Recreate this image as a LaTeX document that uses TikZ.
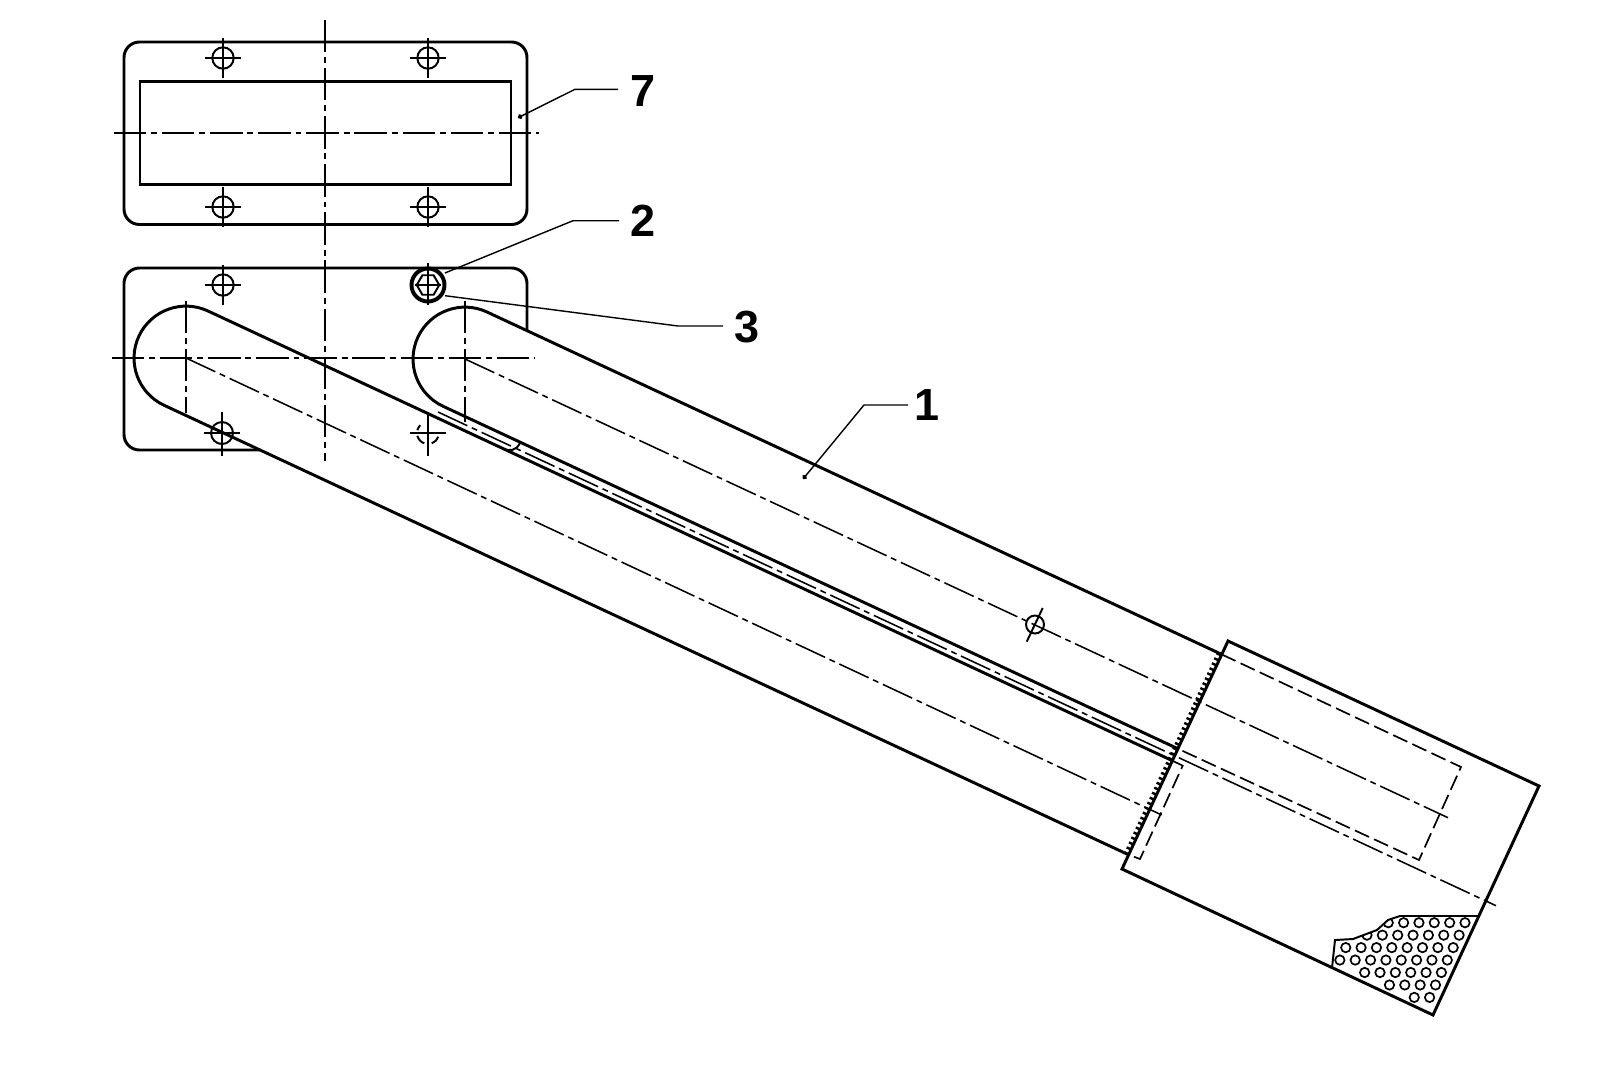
\documentclass[tikz,border=0pt]{standalone}
\usepackage{fontspec}
\setmainfont{Liberation Sans}
\usetikzlibrary{arrows.meta,shapes.geometric}

\begin{document}
\begin{tikzpicture}[
	x=0.025cm, y=-0.025cm,
	outline/.style={line width=2.1pt, line join=miter},
	thinoutline/.style={line width=1.4pt},
	centerline/.style={line width=1.1pt, dash pattern=on 23pt off 3.5pt on 4.2pt off 3.5pt},
	hiddenline/.style={line width=1.2pt, dash pattern=on 11pt off 4pt},
	leader/.style={line width=1pt, line join=round},
	numlabel/.style={font=\fontsize{32}{32}\selectfont\bfseries, inner sep=0pt},
	perfhole/.style={line width=1.2pt}
	]
	\useasboundingbox (0,0) rectangle (1600,1067);
	
	% Upper plate
	\draw[outline, rounded corners=11pt] (124,42) rectangle (527,224.5);
	\draw[outline] (140,81.6) rectangle (511,184.5);
	
	% Lower plate
	\draw[outline, rounded corners=11pt] (260,450) -- (124,450) -- (124,268) -- (527,268) -- (527,331);
	
	% Centre lines of the plates
	\draw[centerline] (325,20) -- (325,461);
	\draw[centerline] (114,133) -- (539,133);
	\draw[centerline] (112,358) -- (535,358);
	
	% Bolt holes
	\foreach \bx/\by in {223/58, 428/58, 223/207, 428/207, 223/285} {
		\draw[thinoutline] (\bx,\by) circle[radius=10.7];
		\draw[thinoutline] (\bx-18,\by) -- (\bx+18,\by);
		\draw[thinoutline] (\bx,\by-20) -- (\bx,\by+20);
	}
	\foreach \bx in {222,428} {
		\draw[thinoutline] (\bx-18,433) -- (\bx+18,433);
		\draw[thinoutline] (\bx,412) -- (\bx,456);
	}
	\draw[thinoutline] (222,433) circle[radius=11];
	\draw[thinoutline] (428,433) ++(20:11) arc[start angle=20, end angle=70, radius=11];
	\draw[thinoutline] (428,433) ++(110:11) arc[start angle=110, end angle=165, radius=11];
	\draw[thinoutline] (428,433) ++(195:11) arc[start angle=195, end angle=225, radius=11];
	
	% Bolt with washer
	\draw[line width=2.8pt, fill=white] (428,285) circle[radius=16.5];
	\node[draw, regular polygon, regular polygon sides=6, thinoutline, minimum size=16pt, inner sep=0pt] (washer) at (428,285) {};
	\draw[thinoutline] (428,263) -- (428,305);
	\draw[thinoutline] (415,285) -- (441,285);
	
	% Tubes
	\draw[outline] (1172,760.5) -- (208,311) arc[start angle=-65, end angle=-245, radius=52] -- (1128.7,854.8);
	\draw[outline] (1221.5,654.3) -- (487,312) arc[start angle=-65, end angle=-245, radius=52] -- (1177,748.3);
	
	% Axes of the tubes
	\draw[centerline] (186,301) -- (186,413);
	\draw[centerline] (465,301) -- (465,422);
	\draw[centerline] (186,358) -- (1161.7,815);
	\draw[centerline] (465,359) -- (1448,817.7);
	\draw[centerline] (438,412) -- (1496,905.7);
	
	% Hook between the tubes
	\draw[thinoutline] (520,443) .. controls (516,451) and (510,451) .. (503,449);
	
	% Cross on the axis
	\draw[thinoutline] (1035,624.5) circle[radius=9];
	\draw[thinoutline] (1042.7,608) -- (1026.7,641.7);
	
	% Housing
	\draw[outline] (1228,641) -- (1539,786) -- (1433,1015) -- (1122,869) -- cycle;
	\draw[line width=3.5pt, dash pattern=on 1.7pt off 2.2pt] (1219.2,653.2) -- (1126.4,853.7);
	
	% Hidden parts inside the housing
	\draw[hiddenline] (1221.5,654.3) -- (1461,767) -- (1419,860) -- (1177,748.3);
	\draw[hiddenline] (1172,760.5) -- (1182.7,765.7) -- (1140,859) -- (1128.7,854.8);
	
	% Perforated part
	\draw[thinoutline] (1332,968) -- (1335,940) -- (1353,939) -- (1377,930) -- (1388,920) -- (1400,916) -- (1478,916);
	\begin{scope}
		\clip (1332,968) -- (1335,940) -- (1353,939) -- (1377,930) -- (1388,920) -- (1400,916) -- (1478,916) -- (1433,1015) -- cycle;
		\foreach \row/\num in {0/5, 1/6, 2/7, 3/7, 4/5, 5/3, 6/1}
			\foreach \col in {0,...,\num}
				\draw[perfhole] ({1465-5.9*\row-15.35*\col},{922.7+12.45*\row}) circle[radius=4.7];
	\end{scope}
	
	% Reference numbers
	\node[numlabel] (num7) at (643,91) {7};
	\node[numlabel] (num2) at (643,221) {2};
	\node[numlabel] (num3) at (747,327.5) {3};
	\node[numlabel] (num1) at (927,405) {1};
	
	% Leader lines
	\coordinate (end7) at (518,117.7);
	\coordinate (end2) at (445,273);
	\coordinate (end3) at (445,295.7);
	\coordinate (end1) at (803,479);
	\draw[leader, {Circle[length=3.5pt]}-] (end7) -- (575,89.3) -- (618,89.3);
	\draw[leader] (end2) -- (573,220.7) -- (619,220.7);
	\draw[leader] (end3) -- (678,326) -- (723,326);
	\draw[leader, {Circle[length=3.5pt]}-] (end1) -- (864,405) -- (908,405);
	
\end{tikzpicture}
\end{document}
